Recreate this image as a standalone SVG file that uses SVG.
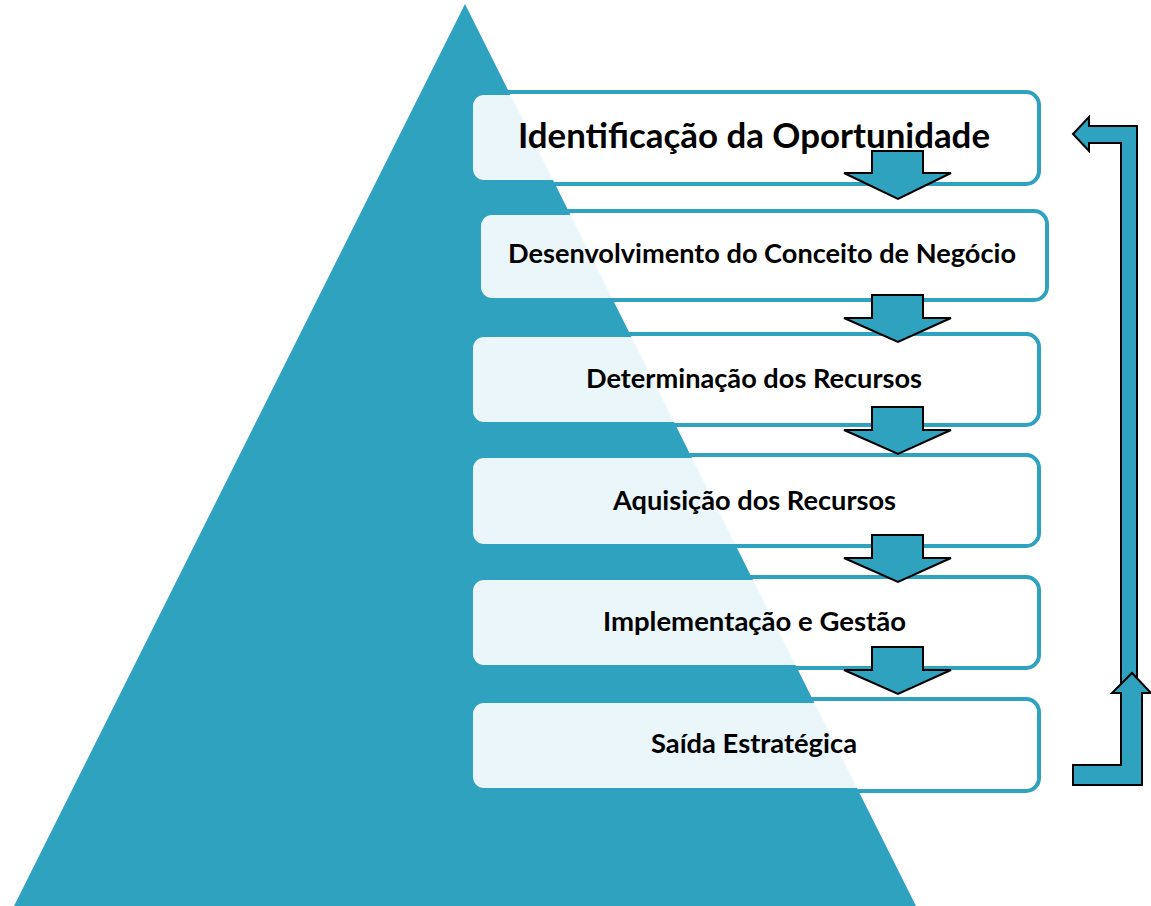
<svg xmlns="http://www.w3.org/2000/svg" width="1151" height="906" viewBox="0 0 1151 906">
  <style>
    .frame { fill: none; stroke: #2ea2bf; stroke-width: 4; }
    .fill { fill: #ffffff; fill-opacity: 0.9; }
    .lbl { font-family: "Lato", "Open Sans", "Liberation Sans", sans-serif; font-weight: 700; fill: #000000; text-anchor: middle; }
    .big { font-size: 35px; }
    .med { font-size: 26px; }
    .arrow { fill: #2ea2bf; stroke: #000000; stroke-width: 2; stroke-linejoin: miter; }
  </style>
  <rect x="0" y="0" width="1151" height="906" fill="#ffffff"/>
  <g id="pyramid">
    <polygon points="465,4 916,906 14,906" fill="#2ea2bf"/>
  </g>
  <g id="node-1">
    <rect class="frame" x="477" y="92" width="562" height="92" rx="13"/>
    <rect class="fill" x="473" y="95" width="564" height="85" rx="11"/>
    <text class="lbl big" x="754" y="148" textLength="472" lengthAdjust="spacingAndGlyphs">Identificação da Oportunidade</text>
  </g>
  <g id="node-2">
    <rect class="frame" x="485" y="211" width="562" height="89" rx="13"/>
    <rect class="fill" x="481" y="215" width="564" height="83" rx="11"/>
    <text class="lbl med" x="762" y="263" textLength="508" lengthAdjust="spacingAndGlyphs">Desenvolvimento do Conceito de Negócio</text>
  </g>
  <g id="node-3">
    <rect class="frame" x="477" y="334" width="562" height="91" rx="13"/>
    <rect class="fill" x="473" y="337" width="564" height="85" rx="11"/>
    <text class="lbl med" x="754" y="388" textLength="336" lengthAdjust="spacingAndGlyphs">Determinação dos Recursos</text>
  </g>
  <g id="node-4">
    <rect class="frame" x="477" y="455" width="562" height="91" rx="13"/>
    <rect class="fill" x="473" y="458" width="564" height="86" rx="11"/>
    <text class="lbl med" x="754.5" y="510" textLength="283" lengthAdjust="spacingAndGlyphs">Aquisição dos Recursos</text>
  </g>
  <g id="node-5">
    <rect class="frame" x="477" y="577" width="562" height="91" rx="13"/>
    <rect class="fill" x="473" y="580" width="564" height="85" rx="11"/>
    <text class="lbl med" x="754.5" y="631" textLength="303" lengthAdjust="spacingAndGlyphs">Implementação e Gestão</text>
  </g>
  <g id="node-6">
    <rect class="frame" x="477" y="699" width="562" height="92" rx="13"/>
    <rect class="fill" x="473" y="703" width="564" height="85" rx="11"/>
    <text class="lbl med" x="754" y="753" textLength="206" lengthAdjust="spacingAndGlyphs">Saída Estratégica</text>
  </g>
  <g id="connectors">
    <path class="arrow" d="M872,151 H923 V173 H951 L898,199 L844,173 H872 Z"/>
    <path class="arrow" d="M872,295 H923 V318 H951 L898,342 L844,318 H872 Z"/>
    <path class="arrow" d="M872,407 H923 V430 H951 L898,454 L844,430 H872 Z"/>
    <path class="arrow" d="M872,535 H923 V558 H951 L898,582 L844,558 H872 Z"/>
    <path class="arrow" d="M872,647 H923 V670 H951 L898,694 L844,670 H872 Z"/>
    <path class="arrow" d="M1073,134 L1089,117 V126 H1137 V692 H1121 V143 H1089 V151 Z"/>
    <path class="arrow" d="M1073,765 H1121 V693 H1112 L1132,673 L1151,693 H1142 V785 H1073 Z"/>
  </g>
</svg>
